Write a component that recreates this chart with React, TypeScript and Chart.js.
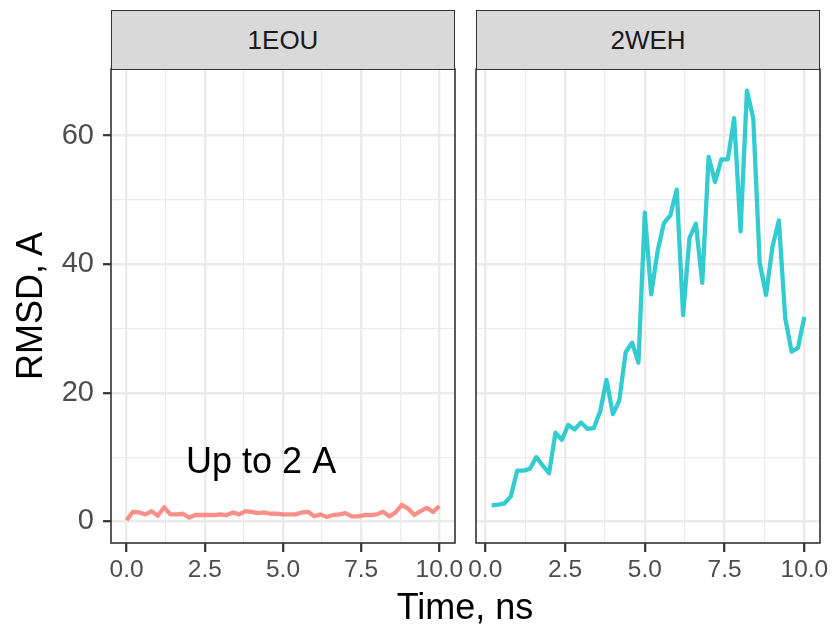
import React, { useEffect, useRef } from "react";
import { Chart, registerables } from "chart.js";

Chart.register(...registerables);

const FONT = "'Liberation Sans', Arial, Helvetica, sans-serif";

// ---- data ----
const panelNames = ["1EOU", "2WEH"];

const times1EOU = [
  0, 0.2, 0.4, 0.6, 0.8, 1.0, 1.2, 1.4, 1.6, 1.8, 2.0, 2.2, 2.4, 2.6, 2.8, 3.0, 3.2, 3.4, 3.6, 3.8,
  4.0, 4.2, 4.4, 4.6, 4.8, 5.0, 5.2, 5.4, 5.6, 5.8, 6.0, 6.2, 6.4, 6.6, 6.8, 7.0, 7.2, 7.4, 7.6, 7.8,
  8.0, 8.2, 8.4, 8.6, 8.8, 9.0, 9.2, 9.4, 9.6, 9.8, 10.0,
];
const rmsd1EOU = [
  0.2, 1.5, 1.4, 1.1, 1.6, 0.9, 2.2, 1.1, 1.1, 1.2, 0.6, 1.0, 1.0, 1.0, 1.0, 1.1, 1.0, 1.4, 1.1, 1.6,
  1.5, 1.3, 1.4, 1.2, 1.2, 1.1, 1.1, 1.1, 1.4, 1.5, 0.8, 1.1, 0.7, 1.0, 1.1, 1.3, 0.8, 0.8, 1.0, 1.0,
  1.1, 1.5, 0.8, 1.4, 2.6, 2.0, 1.0, 1.6, 2.1, 1.5, 2.4,
];

const times2WEH = [
  0.2, 0.4, 0.6, 0.8, 1.0, 1.2, 1.4, 1.6, 1.8, 2.0, 2.2, 2.4, 2.6, 2.8, 3.0, 3.2, 3.4, 3.6, 3.8,
  4.0, 4.2, 4.4, 4.6, 4.8, 5.0, 5.2, 5.4, 5.6, 5.8, 6.0, 6.2, 6.4, 6.6, 6.8, 7.0, 7.2, 7.4, 7.6, 7.8,
  8.0, 8.2, 8.4, 8.6, 8.8, 9.0, 9.2, 9.4, 9.6, 9.8, 10.0,
];
const rmsd2WEH = [
  2.5, 2.6, 2.8, 3.9, 7.9, 7.9, 8.2, 10.0, 8.7, 7.5, 13.8, 12.7, 15.0, 14.3, 15.4, 14.4, 14.5, 17.1, 22.0,
  16.7, 18.8, 26.3, 27.8, 24.7, 48.0, 35.3, 42.0, 46.4, 47.6, 51.6, 32.1, 44.1, 46.3, 37.1, 56.7, 52.8, 56.3, 56.3, 62.7,
  45.1, 67.0, 62.6, 40.2, 35.2, 42.7, 46.8, 31.6, 26.4, 27.0, 31.8,
];

const xMajorTicks = [0, 2.5, 5, 7.5, 10];
const xMinorTicks = [1.25, 3.75, 6.25, 8.75];
const yMajorTicks = [0, 20, 40, 60];
const yMinorTicks = [10, 30, 50];

const xTitle = "Time, ns";
const yTitle = "RMSD, A";
const annotationText = "Up to 2 A";
const annotationX = 4.3;
const annotationY = 9.1;

const lineColors = ["rgba(248,118,109,0.8)", "rgba(0,191,196,0.8)"];

const Y_MIN = -3.35;
const Y_MAX = 70.35;

// ---- layout constants ----
const H = 629;
const PANEL_TOP = 69;
const PANEL_BOTTOM = 543;

const borderPlugin = {
  id: "panelBorder",
  afterDraw(chart: any) {
    const { ctx, chartArea } = chart;
    ctx.save();
    ctx.strokeStyle = "#333333";
    ctx.lineWidth = 1.6;
    ctx.strokeRect(chartArea.left, chartArea.top, chartArea.right - chartArea.left, chartArea.bottom - chartArea.top);
    ctx.restore();
  },
};

const annotationPlugin = {
  id: "annot",
  afterDatasetsDraw(chart: any, _args: any, opts: any) {
    if (!opts || !opts.text) return;
    const { ctx, scales } = chart;
    const px = scales.x.getPixelForValue(opts.x);
    const py = scales.y.getPixelForValue(opts.y);
    ctx.save();
    ctx.fillStyle = "#000000";
    ctx.font = `36px ${FONT}`;
    ctx.textAlign = "center";
    ctx.textBaseline = "middle";
    ctx.fillText(opts.text, px, py);
    ctx.restore();
  },
};

function makeConfig(
  times: number[],
  values: number[],
  color: string,
  xMin: number,
  xMax: number,
  showY: boolean,
  yWidth: number,
  annotation: any
) {
  const xTicks = [...xMajorTicks, ...xMinorTicks].sort((a, b) => a - b);
  const yTicks = [...yMajorTicks, ...yMinorTicks].sort((a, b) => a - b);
  const isXMajor = (v: number) => xMajorTicks.includes(v);
  const isYMajor = (v: number) => yMajorTicks.includes(v);
  return {
    type: "line",
    data: {
      datasets: [
        {
          data: times.map((t, i) => ({ x: t, y: values[i] })),
          borderColor: color,
          borderWidth: 4.3,
          pointRadius: 0,
          tension: 0,
          fill: false,
          borderJoinStyle: "round",
          borderCapStyle: "butt",
        },
      ],
    },
    options: {
      animation: false,
      responsive: false,
      maintainAspectRatio: false,
      layout: { padding: { left: 0, right: 15, top: PANEL_TOP, bottom: 0 } },
      plugins: {
        legend: { display: false },
        tooltip: { enabled: false },
        annot: annotation,
      },
      scales: {
        x: {
          type: "linear",
          min: xMin,
          max: xMax,
          afterBuildTicks: (s: any) => {
            s.ticks = xTicks.map((v) => ({ value: v }));
          },
          afterFit: (s: any) => {
            s.height = H - PANEL_BOTTOM;
          },
          border: { display: false },
          grid: {
            color: "#EBEBEB",
            lineWidth: (c: any) => (c.tick && isXMajor(c.tick.value) ? 2.4 : 1.2),
            drawTicks: true,
            tickLength: 9,
            tickWidth: 2.2,
            tickColor: (c: any) => (c.tick && isXMajor(c.tick.value) ? "#333333" : "rgba(0,0,0,0)"),
          },
          ticks: {
            autoSkip: false,
            maxRotation: 0,
            minRotation: 0,
            padding: 4,
            color: "#4D4D4D",
            font: { family: FONT, size: 24.5 },
            callback: (v: any) => (isXMajor(Number(v)) ? Number(v).toFixed(1) : ""),
          },
        },
        y: {
          type: "linear",
          min: Y_MIN,
          max: Y_MAX,
          afterBuildTicks: (s: any) => {
            s.ticks = yTicks.map((v) => ({ value: v }));
          },
          afterFit: (s: any) => {
            s.width = yWidth;
          },
          border: { display: false },
          grid: {
            color: "#EBEBEB",
            lineWidth: (c: any) => (c.tick && isYMajor(c.tick.value) ? 2.4 : 1.2),
            drawTicks: showY,
            tickLength: 8,
            tickWidth: 2.2,
            tickColor: (c: any) => (c.tick && isYMajor(c.tick.value) ? "#333333" : "rgba(0,0,0,0)"),
          },
          ticks: {
            display: showY,
            autoSkip: false,
            padding: 9,
            color: "#4D4D4D",
            font: { family: FONT, size: 29 },
            callback: (v: any) => (isYMajor(Number(v)) ? String(v) : ""),
          },
        },
      },
    },
    plugins: [borderPlugin, annotationPlugin],
  };
}

function Panel(props: {
  left: number;
  width: number;
  times: number[];
  values: number[];
  color: string;
  xMin: number;
  xMax: number;
  showY: boolean;
  yWidth: number;
  annotation: any;
}) {
  const ref = useRef<HTMLCanvasElement | null>(null);
  useEffect(() => {
    if (!ref.current) return;
    const chart = new Chart(
      ref.current,
      makeConfig(props.times, props.values, props.color, props.xMin, props.xMax, props.showY, props.yWidth, props.annotation) as any
    );
    return () => chart.destroy();
  }, []);
  return (
    <canvas
      ref={ref}
      width={props.width}
      height={H}
      style={{ position: "absolute", left: props.left, top: 0, width: props.width, height: H, display: "block" }}
    />
  );
}

const stripStyle = (left: number): React.CSSProperties => ({
  position: "absolute",
  left,
  top: 10,
  width: 344,
  height: 60,
  boxSizing: "border-box",
  background: "#D9D9D9",
  border: "1.6px solid #333333",
  display: "flex",
  alignItems: "center",
  justifyContent: "center",
  fontFamily: FONT,
  fontSize: 26,
  color: "#1A1A1A",
});

export default function App() {
  return (
    <div style={{ position: "absolute", left: 0, top: 0, width: 835, height: 629, background: "#ffffff", overflow: "hidden" }}>
      <Panel
        left={0}
        width={470}
        times={times1EOU}
        values={rmsd1EOU}
        color={lineColors[0]}
        xMin={-0.5}
        xMax={10.5}
        showY={true}
        yWidth={111}
        annotation={{ text: annotationText, x: annotationX, y: annotationY }}
      />
      <Panel
        left={460}
        width={375}
        times={times2WEH}
        values={rmsd2WEH}
        color={lineColors[1]}
        xMin={-0.29}
        xMax={10.49}
        showY={false}
        yWidth={16}
        annotation={{}}
      />
      <div style={stripStyle(111)}>{panelNames[0]}</div>
      <div style={stripStyle(476)}>{panelNames[1]}</div>
      <div
        style={{
          position: "absolute",
          left: 465,
          top: 607,
          transform: "translate(-50%, -50%)",
          fontFamily: FONT,
          fontSize: 36,
          color: "#000000",
          whiteSpace: "nowrap",
        }}
      >
        {xTitle}
      </div>
      <div
        style={{
          position: "absolute",
          left: 30,
          top: 306,
          transform: "translate(-50%, -50%) rotate(-90deg)",
          fontFamily: FONT,
          fontSize: 36,
          color: "#000000",
          whiteSpace: "nowrap",
        }}
      >
        {yTitle}
      </div>
    </div>
  );
}
